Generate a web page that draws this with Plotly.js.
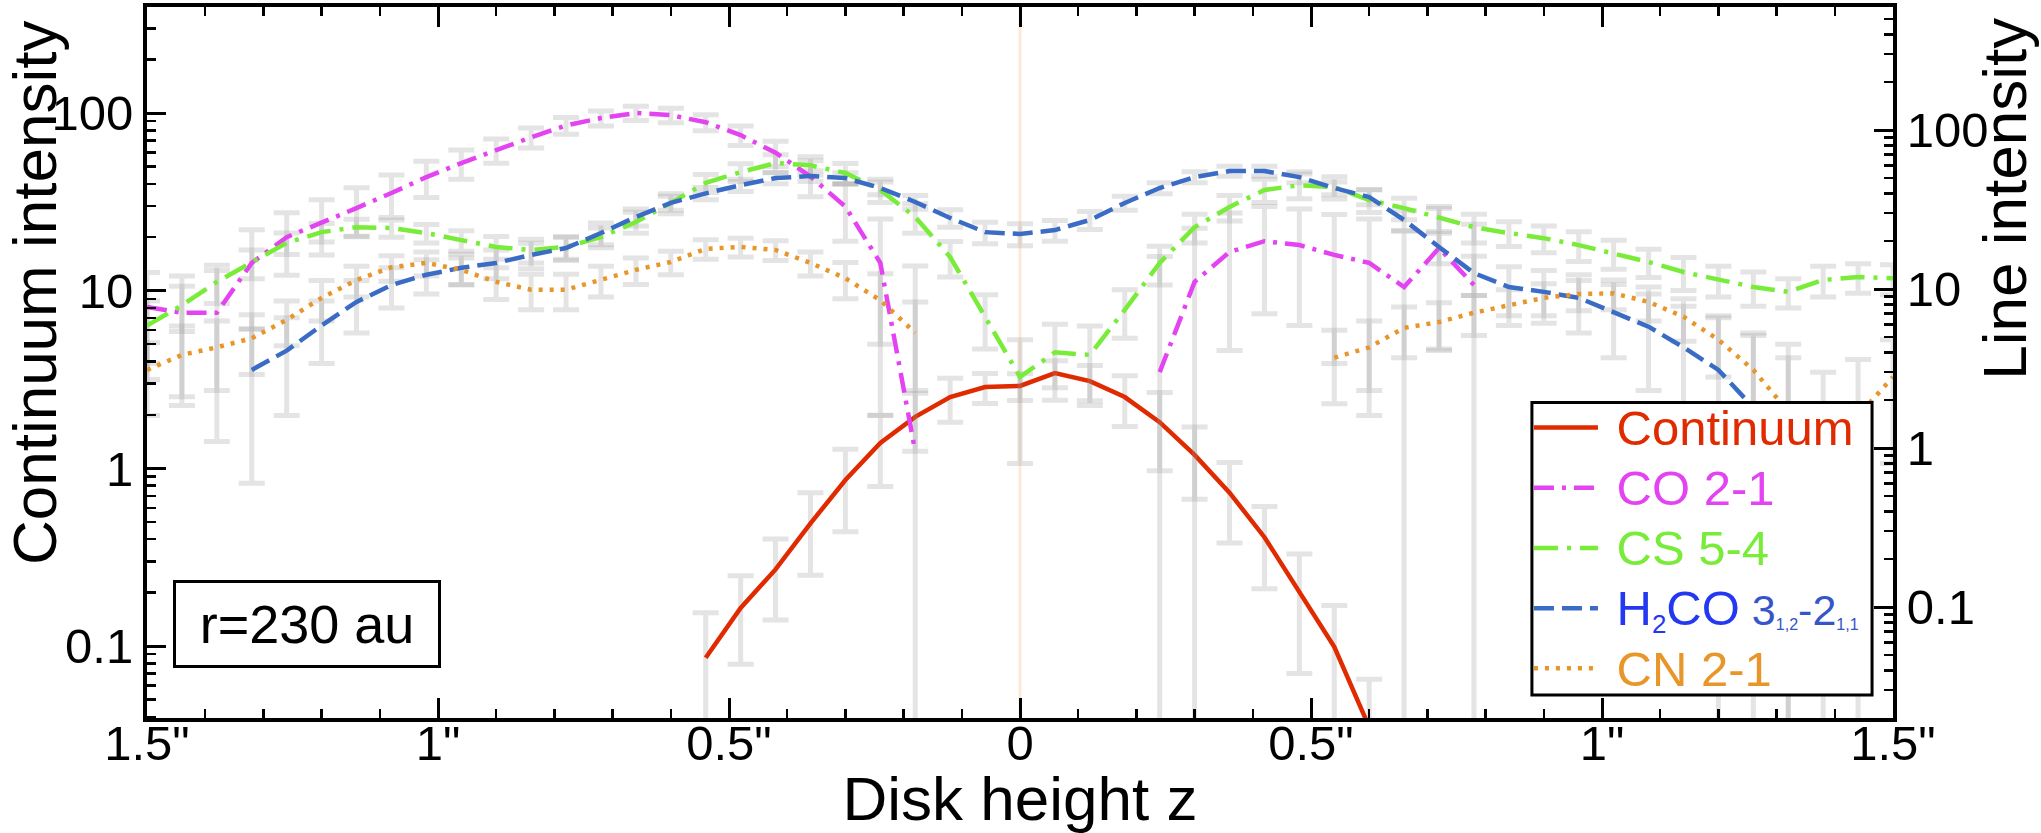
<!DOCTYPE html>
<html>
<head>
<meta charset="utf-8">
<script src="https://cdn.plot.ly/plotly-3.0.1.min.js"></script>
<style>
  html, body { margin: 0; padding: 0; background: #fff; }
  #chart { width: 2041px; height: 833px; }
</style>
</head>
<body>
<div id="chart"></div>
<script>
// Vertical intensity profiles at r = 230 au — continuum (left axis) + lines (right axis).

const zArcsec = [-1.5,-1.44,-1.38,-1.32,-1.26,-1.2,-1.14,-1.08,-1.02,-0.96,
                 -0.9,-0.84,-0.78,-0.72,-0.66,-0.6,-0.54,-0.48,-0.42,-0.36,
                 -0.3,-0.24,-0.18,-0.12,-0.06,0,0.06,0.12,0.18,0.24,
                 0.3,0.36,0.42,0.48,0.54,0.6,0.66,0.72,0.78,0.84,
                 0.9,0.96,1.02,1.08,1.14,1.2,1.26,1.32,1.38,1.44,
                 1.5];

const continuum    = [null,null,null,null,null,null,null,null,null,null,
                      null,null,null,null,null,null,0.086,0.164,0.27,0.49,
                      0.86,1.39,1.95,2.52,2.87,2.91,3.44,3.1,2.52,1.82,
                      1.19,0.73,0.41,0.2,0.099,0.035,null,null,null,null,
                      null,null,null,null,null,null,null,null,null,null,
                      null];
const continuumErr = [null,null,null,null,null,null,null,null,null,null,
                      null,null,null,null,null,null,0.068,0.085,0.13,0.24,
                      0.42,0.6,0.7,0.7,0.55,0.5,0.6,0.7,0.8,0.85,
                      0.52,0.35,0.2,0.13,0.07,0.03,null,null,null,null,
                      null,null,null,null,null,null,null,null,null,null,
                      null];

const co21    = [7.7,7.1,7.1,14.6,21.2,26.4,32.3,40.2,50.6,62,
                 74.8,90,107,119,128,124,112,93,72,51,
                 33,14.6,0.95,null,null,null,null,null,null,3.0,
                 11.1,17.1,20,18.9,16.4,14.6,10.3,18.1,10.6,null,
                 null,null,null,null,null,null,null,null,null,null,
                 null];
const co21Err = [5,5,6,9,9,10,11,12,13,13,
                 13,13,13,13,13,13,13,13,13,13,
                 13,13,13,null,null,null,null,null,null,13,
                 13,13,13,13,13,13,13,14,15,null,
                 null,null,null,null,null,null,null,null,null,null,
                 null];

const cs54    = [5.9,7.9,11.1,14.6,19.5,22.8,24.5,24.2,22.5,20.3,
                 18.4,17.6,18.4,21.2,26.4,34.8,46.5,54.4,62,60,
                 53.7,42,28.4,15.9,6.7,2.8,4.0,3.85,7.4,14.6,
                 24.5,32.8,42,45,43.8,36.3,32.3,28,24.5,22.5,
                 20.9,18.9,16.8,14.8,12.8,11.4,10.3,9.6,11.4,11.9,
                 11.7];
const cs54Err = [2.5,2.5,3,3,3,3,3,3,3,3,
                 3,3,3,3,4,5,6,7,8,8,
                 8,7,6,4,2.5,2,2,2,2.5,4,
                 5,6,7,8,7,6,5,5,5,4,
                 4,4,3.5,3,3,2.5,2.5,2,2.5,2.5,
                 2.5];

const h2co    = [null,null,null,3.1,4.1,5.9,8.3,10.6,12.3,13.6,
                 14.6,16.4,18.1,22.5,28.4,34.8,40,45,49.9,51.4,
                 49.9,43.2,35.3,28,22.8,22.2,23.5,27.2,34.8,43.2,
                 50.6,55.2,55.2,50.6,43.2,37.9,27.2,18.4,12.6,10.3,
                 9.6,8.8,7.2,5.8,4.3,3.1,1.8,1.0,null,null,
                 null];
const h2coErr = [null,null,null,2.5,2.5,2.5,3,3,3,3,
                 3,3,3,3.5,3.5,3.5,3.5,4,4,4,
                 4,4,3.5,3.5,3.5,3.5,3.5,3.5,3.5,3.5,
                 4,4,4,4,4,4,4,4,3.5,3.5,
                 3.5,3.5,3.5,3.5,3.5,3.5,3.5,3.5,null,null,
                 null];

const cn21    = [3.1,3.85,4.3,4.9,6.4,8.8,11.4,13.7,14.6,13.2,
                 11.1,9.9,9.9,11.4,13.2,14.8,17.9,18.4,17.6,14.6,
                 11.7,8.5,5.3,null,null,null,null,null,null,null,
                 null,null,null,null,3.7,4.3,5.7,6.2,7.1,7.9,
                 8.8,9.3,9.4,8.3,6.7,4.8,3.1,1.7,1.2,1.6,
                 2.8];
const cn21Err = [1.5,2,2,2,2,2.5,2.5,2.5,2.5,2.5,
                 2.5,2.5,2.5,2.5,2.5,2.5,2.5,2.5,2.5,2.5,
                 3,4,3,null,null,null,null,null,null,null,
                 null,null,null,null,1.8,2,2,2,2,2,
                 2,2,2,2,2,2,2,2,1.8,2,
                 2];

const xTickVals = [-1.5, -1, -0.5, 0, 0.5, 1, 1.5];
const xTickText = ['1.5"', '1"', '0.5"', '0', '0.5"', '1"', '1.5"'];

const FONT = '"Liberation Sans", Arial, Helvetica, sans-serif';
const ERR_GREY = 'rgba(150,150,150,0.26)';

// legend labels: bigger text than legend.font so the rows stay tight
function label(text, color) {
  return '<span style="font-size:49px;color:' + color + '">&nbsp;' + text + '</span>';
}
const h2coLabel =
  '<span style="font-size:49px;color:#2338f0">&nbsp;H<span style="font-size:37px"><sub>2</sub></span>CO</span>' +
  '<span style="font-size:43px;color:#3555c8"> 3<span style="font-size:23px"><sub>1,2</sub></span>' +
  '-2<span style="font-size:23px"><sub>1,1</sub></span></span>';

function errTrace(y, err, yaxis) {
  return {
    type: 'scatter', mode: 'markers', x: zArcsec, y, yaxis,
    marker: { size: 1, color: 'rgba(0,0,0,0)' },
    error_y: { type: 'data', array: err, symmetric: true, color: ERR_GREY, thickness: 5, width: 13 },
    showlegend: false, hoverinfo: 'skip'
  };
}

function lineTrace(y, name, color, dash, yaxis) {
  return {
    type: 'scatter', mode: 'lines', x: zArcsec, y, yaxis, name,
    line: { color, width: 4.5, dash },
    connectgaps: false
  };
}

const traces = [
  errTrace(cn21, cn21Err, 'y2'),
  errTrace(h2co, h2coErr, 'y2'),
  errTrace(cs54, cs54Err, 'y2'),
  errTrace(co21, co21Err, 'y2'),
  errTrace(continuum, continuumErr, 'y'),
  lineTrace(continuum, label('Continuum', '#e02a00'), '#e02a00', 'solid', 'y'),
  lineTrace(co21, label('CO 2-1', '#e443f2'), '#e443f2', '20px,8px,4px,8px', 'y2'),
  lineTrace(cs54, label('CS 5-4', '#78ec38'), '#78ec38', '24px,9px,4px,9px', 'y2'),
  lineTrace(h2co, h2coLabel, '#3a6cc6', '20px,8px', 'y2'),
  lineTrace(cn21, label('CN 2-1', '#e8962a'), '#e8962a', '4px,7px', 'y2'),
];

const logAxis = {
  type: 'log', showline: true, linewidth: 4, linecolor: '#000',
  ticks: 'inside', ticklen: 19, tickwidth: 3, tickcolor: '#000',
  tickmode: 'linear', tick0: 0, dtick: 1, exponentformat: 'none',
  minor: { ticks: 'inside', ticklen: 9, tickwidth: 2.5, tickcolor: '#000', dtick: 'D1', showgrid: false },
  showgrid: false, zeroline: false,
  tickfont: { family: FONT, size: 49, color: '#000' }
};

const layout = {
  width: 2041, height: 833,
  margin: { l: 147, r: 148, t: 7, b: 115 },
  paper_bgcolor: '#fff', plot_bgcolor: '#fff',
  font: { family: FONT, color: '#000' },
  showlegend: true,
  xaxis: {
    range: [-1.5, 1.5], showline: true, linewidth: 4, linecolor: '#000', mirror: 'ticks',
    ticks: 'inside', ticklen: 20, tickwidth: 3, tickcolor: '#000',
    tickmode: 'array', tickvals: xTickVals, ticktext: xTickText, ticklabelstandoff: -21,
    minor: { ticks: 'inside', ticklen: 9, tickwidth: 2.5, tickcolor: '#000', dtick: 0.1, tick0: 0, showgrid: false },
    showgrid: false, zeroline: false,
    tickfont: { family: FONT, size: 49, color: '#000' },
    title: { text: 'Disk height z', font: { family: FONT, size: 62, color: '#000' }, standoff: 24 }
  },
  yaxis: Object.assign({}, logAxis, { range: [-1.405, 2.597] }),
  yaxis2: Object.assign({}, logAxis, { range: [-1.698, 2.774], overlaying: 'y', side: 'right' }),
  // legend frame is drawn as a shape so the rows can sit tighter to the border
  legend: {
    x: 0.7915, y: 0.4579, xanchor: 'left', yanchor: 'top',
    bgcolor: 'rgba(0,0,0,0)', borderwidth: 0,
    font: { family: FONT, size: 44 }, itemwidth: 64, tracegroupgap: 0
  },
  shapes: [
    { type: 'line', xref: 'x', yref: 'paper', x0: 0, x1: 0, y0: 0, y1: 1,
      line: { color: '#fbe9da', width: 3 }, layer: 'below' },
    { type: 'rect', xref: 'paper', yref: 'paper', x0: 0.7932, x1: 0.988, y0: 0.0323, y1: 0.4438,
      fillcolor: '#fff', line: { color: '#000', width: 3 }, layer: 'above' }
  ],
  annotations: [
    { text: 'Continuum intensity', xref: 'paper', yref: 'paper', x: -0.064, y: 0.598,
      xanchor: 'center', yanchor: 'middle', textangle: -90, showarrow: false,
      font: { family: FONT, size: 62, color: '#000' } },
    { text: 'Line intensity', xref: 'paper', yref: 'paper', x: 1.064, y: 0.73,
      xanchor: 'center', yanchor: 'middle', textangle: -90, showarrow: false,
      font: { family: FONT, size: 62, color: '#000' } },
    { text: 'r=230 au', xref: 'paper', yref: 'paper', x: 0.0916, y: 0.132,
      xanchor: 'center', yanchor: 'middle', showarrow: false,
      width: 256, height: 76, borderpad: 3, bgcolor: '#fff',
      bordercolor: '#000', borderwidth: 3,
      font: { family: FONT, size: 54, color: '#000' } }
  ]
};

Plotly.newPlot('chart', traces, layout, { staticPlot: true, displayModeBar: false });
</script>
</body>
</html>
